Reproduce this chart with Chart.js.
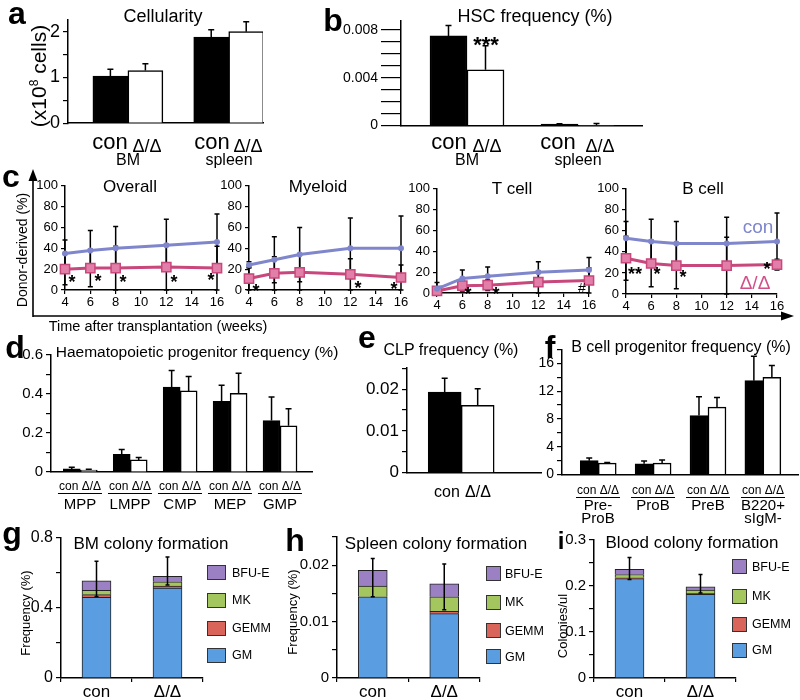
<!DOCTYPE html>
<html>
<head>
<meta charset="utf-8">
<script src="https://cdn.jsdelivr.net/npm/chart.js"></script>
<style>
  body { margin: 0; background: #fff; font-family: "Liberation Sans", Arial, sans-serif; }
  #fig { position: relative; width: 800px; height: 700px; overflow: hidden; }
  canvas { position: absolute; }
  .t { position: absolute; transform: translate(-50%, -50%); white-space: nowrap; line-height: 1; color: #000; }
  .L { font-weight: bold; font-size: 32px; }
  .rot { transform: translate(-50%, -50%) rotate(-90deg); }
  .u { border-bottom: 1.2px solid #000; padding: 0 1px 1px; }
  .sq { position: absolute; border: 1px solid #333; box-sizing: border-box; }
</style>
</head>
<body>
<div id="fig"></div>
<script>
// ---- data ----
// a: cellularity (x10^8 cells)
const aGroups = ["BM", "spleen"];
const aCon = [1.03, 1.88];
const aConErr = [0.15, 0.16];
const aKo = [1.15, 2.0];
const aKoErr = [0.15, 0.22];
const aTicks = [0, 1, 2];

// b: HSC frequency (%)
const bGroups = ["BM", "spleen"];
const bCon = [0.0075, 0.00012];
const bConErr = [0.00088, 0.00004];
const bKo = [0.00467, 0.00003];
const bKoErr = [0.002, 0.00015];
const bTicks = [0, 0.004, 0.008];

// c: donor-derived (%) over time
const weeks = [4, 6, 8, 12, 16];
const weekTicks = [4, 6, 8, 10, 12, 14, 16];
const cTicks = [0, 20, 40, 60, 80, 100];
const cPanels = ["Overall", "Myeloid", "T cell", "B cell"];
const overallCon = [35, 38, 40, 43, 46];
const overallConErr = [13, 19, 21, 25, 27];
const overallKo = [20, 21, 21, 22, 21];
const overallKoErr = [15, 18, 21, 22, 21];
const myeloidCon = [24, 29, 34, 40, 40];
const myeloidConErr = [3, 22, 26, 29, 31];
const myeloidKo = [11, 16, 17, 15, 12];
const myeloidKoErr = [11, 16, 17, 15, 12];
const tcellCon = [4, 14, 16, 20, 22];
const tcellConErr = [6, 8, 9, 10, 12];
const tcellKo = [2, 7, 7.5, 10.5, 12];
const tcellKoErr = [2, 5, 5, 10.5, 12];
const bcellCon = [53, 50, 48, 48, 50];
const bcellConErr = [16, 21, 21, 25, 27];
const bcellKo = [34, 29, 27, 27, 28];
const bcellKoErr = [21, 22, 22, 27, 5];

// d: haematopoietic progenitor frequency (%)
const dGroups = ["MPP", "LMPP", "CMP", "MEP", "GMP"];
const dCon = [0.016, 0.09, 0.435, 0.363, 0.264];
const dConErr = [0.008, 0.025, 0.085, 0.082, 0.121];
const dKo = [0.01, 0.062, 0.416, 0.404, 0.237];
const dKoErr = [0.004, 0.012, 0.074, 0.102, 0.087];
const dTicks = [0, 0.2, 0.4, 0.6];

// e: CLP frequency (%)
const eCon = [0.0193];
const eConErr = [0.0033];
const eKo = [0.0161];
const eKoErr = [0.004];
const eTicks = [0, 0.01, 0.02];

// f: B cell progenitor frequency (%)
const fGroups = [["Pre-", "ProB"], ["ProB"], ["PreB"], ["B220+", "sIgM-"]];
const fCon = [2.0, 1.56, 8.5, 13.5];
const fConErr = [0.4, 0.4, 2.7, 3.5];
const fKo = [1.65, 1.65, 9.7, 14.0];
const fKoErr = [0.1, 0.45, 1.4, 1.7];
const fTicks = [0, 4, 8, 12, 16];

// g-i: colony formation, stacked GM, GEMM, MK, BFU-E
const colonyGroups = ["con", "Δ/Δ"];
const colonyTypes = ["GM", "GEMM", "MK", "BFU-E"];
const colonyColors = ["#5b9de1", "#d9645a", "#a3c65f", "#9b80c4"];
const bmGM = [0.46, 0.512];
const bmGEMM = [0.015, 0.012];
const bmMK = [0.025, 0.024];
const bmBFUE = [0.053, 0.032];
const bmErrUp = [0.112, 0.109];
const bmErrDown = [0.088, 0.05];
const gTicks = [0, 0.4, 0.8];
const spGM = [0.0144, 0.0114];
const spGEMM = [0, 0.0004];
const spMK = [0.0019, 0.0026];
const spBFUE = [0.0028, 0.0023];
const spErrUp = [0.0021, 0.0035];
const spErrDown = [0.0047, 0.0046];
const hTicks = [0, 0.01, 0.02];
const blGM = [0.216, 0.182];
const blGEMM = [0.002, 0.002];
const blMK = [0.007, 0.007];
const blBFUE = [0.011, 0.007];
const blErrUp = [0.026, 0.027];
const blErrDown = [0.022, 0.013];
const iTicks = [0, 0.1, 0.2, 0.3];

const BLUE = "#7f86cc";
const PINK = "#c8477c";
const PINK_FILL = "#e27fa8";

// ---- helpers ----
const fig = document.getElementById("fig");

Chart.defaults.font.family = "'Liberation Sans', Arial, sans-serif";
Chart.defaults.color = "#000";
Chart.defaults.animation = false;
Chart.defaults.plugins.legend.display = false;
Chart.defaults.plugins.tooltip.enabled = false;

// error bars: errUp (and optional errDown) on a dataset
function drawErr(chart) {
  const ctx = chart.ctx, ys = chart.scales.y;
  ctx.save();
  ctx.strokeStyle = "#000";
  ctx.lineWidth = 1.5;
  chart.data.datasets.forEach((ds, i) => {
    if (!ds.errUp) return;
    chart.getDatasetMeta(i).data.forEach((el, j) => {
      const v = ys.getValueForPixel(el.y);
      const top = ys.getPixelForValue(v + ds.errUp[j]);
      const bot = ds.errDown ? ys.getPixelForValue(Math.max(0, v - ds.errDown[j])) : el.y;
      const cap = ds.cap || 3;
      ctx.beginPath();
      ctx.moveTo(el.x, top);
      ctx.lineTo(el.x, bot);
      ctx.moveTo(el.x - cap, top);
      ctx.lineTo(el.x + cap, top);
      if (ds.errDown) {
        ctx.moveTo(el.x - cap, bot);
        ctx.lineTo(el.x + cap, bot);
      }
      ctx.stroke();
    });
  });
  ctx.restore();
}
Chart.register({
  id: "errorBars",
  beforeDatasetsDraw(chart) { if (chart.config.type === "line") drawErr(chart); },
  afterDatasetsDraw(chart) { if (chart.config.type !== "line") drawErr(chart); }
});

// place a chart so its plot area lands on area = [left, top, right, bottom]
function place(area, pad, cfg) {
  const [l, t, r, b] = area;
  const cv = document.createElement("canvas");
  cv.width = r - l + pad[0] + pad[2];
  cv.height = b - t + pad[1] + pad[3];
  cv.style.left = (l - pad[0]) + "px";
  cv.style.top = (t - pad[1]) + "px";
  fig.appendChild(cv);
  cfg.options.responsive = false;
  cfg.options.layout = { padding: { left: 0, top: pad[1], right: pad[2], bottom: 0 } };
  cfg.options.scales.x.afterFit = s => { s.height = pad[3]; };
  cfg.options.scales.y.afterFit = s => { s.width = pad[0]; };
  return new Chart(cv, cfg);
}

function yAxis(max, minor, majors, size, tick, padding) {
  return {
    min: 0,
    max: max,
    border: { color: "#000", width: 1.5 },
    grid: { drawOnChartArea: false, color: "#000", lineWidth: 1.2, tickLength: tick || 5 },
    afterBuildTicks: s => {
      const t = [];
      for (let k = 0; k * minor <= max + 1e-9; k++) t.push({ value: +(k * minor).toFixed(6) });
      s.ticks = t;
    },
    ticks: { autoSkip: false, font: { size: size }, padding: padding || 3, callback: v => majors.includes(v) ? String(v) : "" }
  };
}

function xLinear(min, max) {
  return { type: "linear", min: min, max: max, offset: false, border: { color: "#000", width: 1.5 },
           grid: { display: false }, ticks: { display: false } };
}

function pairBars(area, pad, con, conErr, ko, koErr, xr, y, thick) {
  const pts = arr => arr.map((v, i) => ({ x: i + 1, y: v }));
  return place(area, pad, {
    type: "bar",
    data: { datasets: [
      { label: "con", data: pts(con), backgroundColor: "#000", borderColor: "#000", borderWidth: 1.5, barThickness: thick, errUp: conErr },
      { label: "Δ/Δ", data: pts(ko), backgroundColor: "#fff", borderColor: "#000", borderWidth: 1.5, barThickness: thick, errUp: koErr }
    ] },
    options: { scales: { x: xLinear(xr[0], xr[1]), y: y } }
  });
}

function timeChart(area, con, conErr, ko, koErr) {
  const pts = arr => arr.map((v, i) => ({ x: weeks[i], y: v }));
  return place(area, [40, 10, 12, 20], {
    type: "line",
    data: { datasets: [
      { label: "con", data: pts(con), borderColor: BLUE, backgroundColor: BLUE, borderWidth: 3,
        pointRadius: 3, pointBorderWidth: 0, clip: false, errUp: conErr, errDown: conErr, cap: 2.5 },
      { label: "Δ/Δ", data: pts(ko), borderColor: PINK, backgroundColor: PINK_FILL, borderWidth: 3,
        pointStyle: "rect", pointRadius: 6.5, pointBorderWidth: 1.5, clip: false, errUp: koErr, errDown: koErr, cap: 2.5 }
    ] },
    options: { scales: {
      x: { type: "linear", min: 4, max: 16, border: { color: "#000", width: 1.5 },
           grid: { drawOnChartArea: false, color: "#000", lineWidth: 1.2, tickLength: 4 },
           afterBuildTicks: s => { s.ticks = weekTicks.map(v => ({ value: v })); },
           ticks: { autoSkip: false, maxRotation: 0, font: { size: 13 }, padding: 1 } },
      y: yAxis(100, 20, cTicks, 13, 4)
    } }
  });
}

function colonyChart(area, stacks, errUp, errDown, y) {
  return place(area, [44, 10, 4, 22], {
    type: "bar",
    data: { labels: colonyGroups, datasets: stacks.map((d, k) => ({
      label: colonyTypes[k], data: d, backgroundColor: colonyColors[k], borderColor: "#222", borderWidth: 1,
      barThickness: 29, errUp: k === stacks.length - 1 ? errUp : null, errDown: errDown, cap: 2
    })) },
    options: { scales: {
      x: { stacked: true, border: { color: "#000", width: 1.5 },
           grid: { drawOnChartArea: false, color: "#000", lineWidth: 1.2, tickLength: 4 },
           ticks: { font: { size: 17 }, padding: 0 } },
      y: Object.assign(y, { stacked: true })
    } }
  });
}

function T(x, y, s, css, cls) {
  const d = document.createElement("div");
  d.className = "t " + (cls || "");
  d.style.left = x + "px";
  d.style.top = y + "px";
  if (css) d.style.cssText += css;
  d.innerHTML = s;
  fig.appendChild(d);
  return d;
}

function legend(sqLeft, sqW, rows, textLeft) {
  colonyTypes.slice().reverse().forEach((name, k) => {
    const sq = document.createElement("div");
    sq.className = "sq";
    sq.style.cssText += `left:${sqLeft}px;top:${rows[k] - 7.5}px;width:${sqW}px;height:15px;background:${colonyColors[colonyTypes.length - 1 - k]}`;
    fig.appendChild(sq);
    T(textLeft, rows[k], name, "font-size:12.5px;transform:translate(0,-50%)");
  });
}

// ---- charts ----
pairBars([68, 16, 263, 133], [40, 10, 4, 4], aCon, aConErr, aKo, aKoErr, [0.406, 2.34], yAxis(2.26, 0.5, aTicks, 18), 35);
pairBars([401, 19, 642, 133], [62, 10, 4, 4], bCon, bConErr, bKo, bKoErr, [0.4054, 2.5766], yAxis(0.0088, 0.001, bTicks, 14, 20), 37);

timeChart([65, 185, 217, 290], overallCon, overallConErr, overallKo, overallKoErr);
timeChart([249, 185, 401, 290], myeloidCon, myeloidConErr, myeloidKo, myeloidKoErr);
timeChart([437, 188, 589, 293], tcellCon, tcellConErr, tcellKo, tcellKoErr);
timeChart([626, 188, 777, 294], bcellCon, bcellConErr, bcellKo, bcellKoErr);

pairBars([51, 353, 312, 480], [40, 10, 4, 4], dCon, dConErr, dKo, dKoErr, [0.414, 5.64], yAxis(0.6, 0.1, dTicks, 15), 17);
pairBars([407, 365, 541, 482], [52, 10, 4, 4], eCon, eConErr, eKo, eKoErr, [0.457, 1.8], yAxis(0.025, 0.005, eTicks, 17), 33);
pairBars([562, 348, 798, 482], [30, 10, 2, 4], fCon, fConErr, fKo, fKoErr, [0.34, 4.64], yAxis(18, 2, fTicks, 14), 18);

colonyChart([61, 535, 203, 678], [bmGM, bmGEMM, bmMK, bmBFUE], bmErrUp, bmErrDown, yAxis(0.8, 0.2, gTicks, 16));
colonyChart([337, 535, 480, 678], [spGM, spGEMM, spMK, spBFUE], spErrUp, spErrDown, yAxis(0.025, 0.005, hTicks, 15));
colonyChart([594, 538, 736, 678], [blGM, blGEMM, blMK, blBFUE], blErrUp, blErrDown, yAxis(0.3, 0.05, iTicks, 15));

// ---- arrows for c ----
fig.insertAdjacentHTML("beforeend",
  '<svg style="position:absolute;left:0;top:0" width="800" height="700">' +
  '<line x1="33" y1="317" x2="33" y2="180" stroke="#000" stroke-width="1.6"/>' +
  '<polygon points="33,169 28.5,181 37.5,181" fill="#000"/>' +
  '<line x1="33" y1="316" x2="782" y2="316" stroke="#000" stroke-width="1.6"/>' +
  '<polygon points="794,316 781,311.5 781,320.5" fill="#000"/></svg>');

// ---- text ----
T(17, 13, "a", "", "L");
T(333, 20, "b", "", "L");
T(11, 176, "c", "", "L");
T(15, 347, "d", "", "L");
T(367, 337, "e", "", "L");
T(550, 347, "f", "", "L");
T(12, 533, "g", "", "L");
T(295, 540, "h", "", "L");
T(561, 541, "i", "font-size:24px", "L");

// a
T(163, 16, "Cellularity", "font-size:18px");
T(38, 76, "(x10<sup style='font-size:12px'>8</sup> cells)", "font-size:21px", "rot");
[[110, 147, 128], [212, 248, 229]].forEach((p, i) => {
  T(p[0], 142, "con", "font-size:22px");
  T(p[1], 146, "Δ/Δ", "font-size:18px");
  T(p[2], 160, aGroups[i], "font-size:16px");
});
// b
T(535, 16, "HSC frequency (%)", "font-size:18px");
T(486, 45, "***", "font-size:22px;font-weight:bold");
[[449, 487, 467], [558, 600, 578]].forEach((p, i) => {
  T(p[0], 142, "con", "font-size:22px");
  T(p[1], 146, "Δ/Δ", "font-size:18px");
  T(p[2], 160, bGroups[i], "font-size:16px");
});

// c
T(22, 250, "Donor-derived (%)", "font-size:14px", "rot");
T(158, 326, "Time after transplantation (weeks)", "font-size:14.5px");
[[130, 186], [318, 186], [512, 188], [703, 188]].forEach((p, i) => T(p[0], p[1], cPanels[i], "font-size:17px"));
[[72, 282.3, "*"], [98, 281.3, "*"], [123, 282.3, "*"], [174, 282.3, "*"], [211, 280, "*"],
 [256, 291.3, "*"], [358, 288, "*"], [394, 289, "*"],
 [468, 294, "*"], [496, 294, "*"],
 [635, 274, "**"], [657, 274, "*"], [683, 277.3, "*"], [767, 269, "*"]]
  .forEach(s => T(s[0], s[1], s[2], "font-size:18px;font-weight:bold"));
T(582, 288, "#", "font-size:14px");
T(758, 226, "con", "font-size:19px;color:" + BLUE);
T(755, 282, "Δ/Δ", "font-size:19px;color:#d0508a");

// d
T(197, 352, "Haematopoietic progenitor frequency (%)", "font-size:15.5px");
dGroups.forEach((g, i) => {
  T(80 + 50 * i, 487, "con Δ/Δ", "font-size:12px", "u");
  T(80 + 50 * i, 503, g, "font-size:15px");
});
// e
T(451, 350, "CLP frequency (%)", "font-size:16px");
T(447, 492, "con", "font-size:16px");
T(478, 492, "Δ/Δ", "font-size:16px");
// f
T(681, 347, "B cell progenitor frequency (%)", "font-size:16px");
fGroups.forEach((g, i) => {
  const cx = 598 + 55 * i;
  T(cx, 491, "con Δ/Δ", "font-size:12px", "u");
  g.forEach((line, k) => T(cx, 504 + 13 * k, line, "font-size:15px"));
});

// g, h, i
T(151, 543, "BM colony formation", "font-size:17px");
T(25, 613, "Frequency (%)", "font-size:13px", "rot");
legend(207, 19, [572.7, 600, 628.3, 655], 232);
T(436, 543, "Spleen colony formation", "font-size:17px");
T(292, 612, "Frequency (%)", "font-size:13px", "rot");
legend(486, 15, [573.7, 602, 630.7, 656.7], 505);
T(692, 542, "Blood colony formation", "font-size:17px");
T(562, 626, "Colonies/ul", "font-size:13px", "rot");
legend(732, 15, [566.7, 596, 624.3, 650], 752);
</script>
</body>
</html>
